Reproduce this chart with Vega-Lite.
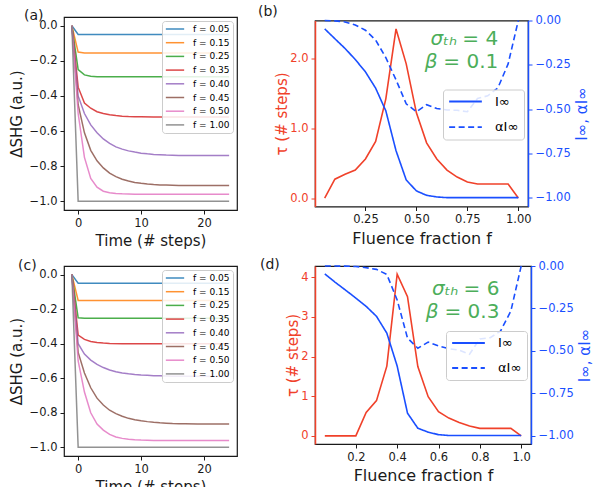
{
  "$schema": "https://vega.github.io/schema/vega-lite/v6.json",
  "background": "white",
  "padding": {"left": 8, "top": 4, "right": 5, "bottom": 0},
  "config": {
    "font": "DejaVu Sans",
    "view": {"stroke": "#1a1a1a", "strokeWidth": 1.2},
    "axis": {"grid": false, "domain": false, "tickColor": "#1a1a1a", "tickSize": 4, "tickWidth": 1, "labelFontSize": 11.5, "labelColor": "#1a1a1a", "titleFontSize": 15, "titleFontWeight": "normal", "titleColor": "#1a1a1a", "labelPadding": 3, "titlePadding": 5},
    "title": {"fontSize": 14, "fontWeight": "normal", "anchor": "start", "frame": "group", "color": "#1a1a1a"},
    "legend": {"title": null, "symbolType": "stroke", "fillColor": "rgba(255,255,255,0.85)", "strokeColor": "#cccccc", "cornerRadius": 3},
    "text": {"font": "DejaVu Sans", "fontWeight": "normal"}
  },
  "datasets": {
    "one": [{}],
    "a": [
      {"f":"f = 0.05","t":-1,"v":0},{"f":"f = 0.05","t":0,"v":-0.05},{"f":"f = 0.05","t":24,"v":-0.05},
      {"f":"f = 0.15","t":-1,"v":0},{"f":"f = 0.15","t":0,"v":-0.15},{"f":"f = 0.15","t":1,"v":-0.155},{"f":"f = 0.15","t":24,"v":-0.155},
      {"f":"f = 0.25","t":-1,"v":0},{"f":"f = 0.25","t":0,"v":-0.25},{"f":"f = 0.25","t":1,"v":-0.28},{"f":"f = 0.25","t":2,"v":-0.288},{"f":"f = 0.25","t":3,"v":-0.29},{"f":"f = 0.25","t":24,"v":-0.29},
      {"f":"f = 0.35","t":-1,"v":0},{"f":"f = 0.35","t":0,"v":-0.35},{"f":"f = 0.35","t":1,"v":-0.44},{"f":"f = 0.35","t":2,"v":-0.47},{"f":"f = 0.35","t":3,"v":-0.49},{"f":"f = 0.35","t":4,"v":-0.5},{"f":"f = 0.35","t":5,"v":-0.507},{"f":"f = 0.35","t":6,"v":-0.512},{"f":"f = 0.35","t":7,"v":-0.515},{"f":"f = 0.35","t":8,"v":-0.517},{"f":"f = 0.35","t":9,"v":-0.518},{"f":"f = 0.35","t":10,"v":-0.519},{"f":"f = 0.35","t":12,"v":-0.52},{"f":"f = 0.35","t":24,"v":-0.52},
      {"f":"f = 0.40","t":-1,"v":0},{"f":"f = 0.40","t":0,"v":-0.4},{"f":"f = 0.40","t":1,"v":-0.5},{"f":"f = 0.40","t":2,"v":-0.565},{"f":"f = 0.40","t":3,"v":-0.61},{"f":"f = 0.40","t":4,"v":-0.645},{"f":"f = 0.40","t":5,"v":-0.67},{"f":"f = 0.40","t":6,"v":-0.69},{"f":"f = 0.40","t":7,"v":-0.703},{"f":"f = 0.40","t":8,"v":-0.713},{"f":"f = 0.40","t":9,"v":-0.72},{"f":"f = 0.40","t":10,"v":-0.726},{"f":"f = 0.40","t":11,"v":-0.73},{"f":"f = 0.40","t":12,"v":-0.733},{"f":"f = 0.40","t":13,"v":-0.735},{"f":"f = 0.40","t":14,"v":-0.737},{"f":"f = 0.40","t":15,"v":-0.738},{"f":"f = 0.40","t":16,"v":-0.739},{"f":"f = 0.40","t":18,"v":-0.74},{"f":"f = 0.40","t":24,"v":-0.74},
      {"f":"f = 0.45","t":-1,"v":0},{"f":"f = 0.45","t":0,"v":-0.45},{"f":"f = 0.45","t":1,"v":-0.61},{"f":"f = 0.45","t":2,"v":-0.71},{"f":"f = 0.45","t":3,"v":-0.77},{"f":"f = 0.45","t":4,"v":-0.81},{"f":"f = 0.45","t":5,"v":-0.84},{"f":"f = 0.45","t":6,"v":-0.86},{"f":"f = 0.45","t":7,"v":-0.875},{"f":"f = 0.45","t":8,"v":-0.885},{"f":"f = 0.45","t":9,"v":-0.893},{"f":"f = 0.45","t":10,"v":-0.898},{"f":"f = 0.45","t":11,"v":-0.902},{"f":"f = 0.45","t":12,"v":-0.905},{"f":"f = 0.45","t":13,"v":-0.907},{"f":"f = 0.45","t":14,"v":-0.908},{"f":"f = 0.45","t":16,"v":-0.91},{"f":"f = 0.45","t":24,"v":-0.91},
      {"f":"f = 0.50","t":-1,"v":0},{"f":"f = 0.50","t":0,"v":-0.5},{"f":"f = 0.50","t":1,"v":-0.75},{"f":"f = 0.50","t":2,"v":-0.87},{"f":"f = 0.50","t":3,"v":-0.92},{"f":"f = 0.50","t":4,"v":-0.943},{"f":"f = 0.50","t":5,"v":-0.952},{"f":"f = 0.50","t":6,"v":-0.956},{"f":"f = 0.50","t":7,"v":-0.958},{"f":"f = 0.50","t":9,"v":-0.96},{"f":"f = 0.50","t":24,"v":-0.96},
      {"f":"f = 1.00","t":-1,"v":0},{"f":"f = 1.00","t":0,"v":-1.0},{"f":"f = 1.00","t":24,"v":-1.0}
    ],
    "c": [
      {"f":"f = 0.05","t":-1,"v":0},{"f":"f = 0.05","t":0,"v":-0.05},{"f":"f = 0.05","t":24,"v":-0.05},
      {"f":"f = 0.15","t":-1,"v":0},{"f":"f = 0.15","t":0,"v":-0.15},{"f":"f = 0.15","t":24,"v":-0.15},
      {"f":"f = 0.25","t":-1,"v":0},{"f":"f = 0.25","t":0,"v":-0.25},{"f":"f = 0.25","t":1,"v":-0.252},{"f":"f = 0.25","t":24,"v":-0.252},
      {"f":"f = 0.35","t":-1,"v":0},{"f":"f = 0.35","t":0,"v":-0.35},{"f":"f = 0.35","t":1,"v":-0.375},{"f":"f = 0.35","t":2,"v":-0.387},{"f":"f = 0.35","t":3,"v":-0.393},{"f":"f = 0.35","t":4,"v":-0.396},{"f":"f = 0.35","t":5,"v":-0.398},{"f":"f = 0.35","t":7,"v":-0.4},{"f":"f = 0.35","t":24,"v":-0.4},
      {"f":"f = 0.40","t":-1,"v":0},{"f":"f = 0.40","t":0,"v":-0.4},{"f":"f = 0.40","t":1,"v":-0.46},{"f":"f = 0.40","t":2,"v":-0.495},{"f":"f = 0.40","t":3,"v":-0.52},{"f":"f = 0.40","t":4,"v":-0.538},{"f":"f = 0.40","t":5,"v":-0.552},{"f":"f = 0.40","t":6,"v":-0.562},{"f":"f = 0.40","t":7,"v":-0.569},{"f":"f = 0.40","t":8,"v":-0.574},{"f":"f = 0.40","t":9,"v":-0.578},{"f":"f = 0.40","t":10,"v":-0.581},{"f":"f = 0.40","t":11,"v":-0.583},{"f":"f = 0.40","t":12,"v":-0.585},{"f":"f = 0.40","t":13,"v":-0.586},{"f":"f = 0.40","t":14,"v":-0.587},{"f":"f = 0.40","t":15,"v":-0.588},{"f":"f = 0.40","t":17,"v":-0.589},{"f":"f = 0.40","t":24,"v":-0.59},
      {"f":"f = 0.45","t":-1,"v":0},{"f":"f = 0.45","t":0,"v":-0.45},{"f":"f = 0.45","t":1,"v":-0.57},{"f":"f = 0.45","t":2,"v":-0.655},{"f":"f = 0.45","t":3,"v":-0.715},{"f":"f = 0.45","t":4,"v":-0.755},{"f":"f = 0.45","t":5,"v":-0.785},{"f":"f = 0.45","t":6,"v":-0.805},{"f":"f = 0.45","t":7,"v":-0.82},{"f":"f = 0.45","t":8,"v":-0.832},{"f":"f = 0.45","t":9,"v":-0.84},{"f":"f = 0.45","t":10,"v":-0.846},{"f":"f = 0.45","t":11,"v":-0.851},{"f":"f = 0.45","t":12,"v":-0.855},{"f":"f = 0.45","t":13,"v":-0.858},{"f":"f = 0.45","t":14,"v":-0.86},{"f":"f = 0.45","t":15,"v":-0.862},{"f":"f = 0.45","t":16,"v":-0.863},{"f":"f = 0.45","t":17,"v":-0.864},{"f":"f = 0.45","t":19,"v":-0.865},{"f":"f = 0.45","t":24,"v":-0.865},
      {"f":"f = 0.50","t":-1,"v":0},{"f":"f = 0.50","t":0,"v":-0.5},{"f":"f = 0.50","t":1,"v":-0.68},{"f":"f = 0.50","t":2,"v":-0.8},{"f":"f = 0.50","t":3,"v":-0.865},{"f":"f = 0.50","t":4,"v":-0.9},{"f":"f = 0.50","t":5,"v":-0.925},{"f":"f = 0.50","t":6,"v":-0.94},{"f":"f = 0.50","t":7,"v":-0.948},{"f":"f = 0.50","t":8,"v":-0.953},{"f":"f = 0.50","t":9,"v":-0.956},{"f":"f = 0.50","t":10,"v":-0.958},{"f":"f = 0.50","t":12,"v":-0.96},{"f":"f = 0.50","t":24,"v":-0.96},
      {"f":"f = 1.00","t":-1,"v":0},{"f":"f = 1.00","t":0,"v":-1.0},{"f":"f = 1.00","t":24,"v":-1.0}
    ],
    "b": [
      {"f":0.05,"tau":0,"I":-0.047,"aI":0},
      {"f":0.10,"tau":0.27,"I":-0.103,"aI":-0.002},
      {"f":0.15,"tau":0.34,"I":-0.158,"aI":-0.008},
      {"f":0.20,"tau":0.40,"I":-0.22,"aI":-0.025},
      {"f":0.25,"tau":0.56,"I":-0.29,"aI":-0.055},
      {"f":0.30,"tau":0.81,"I":-0.382,"aI":-0.11},
      {"f":0.35,"tau":1.42,"I":-0.51,"aI":-0.21},
      {"f":0.40,"tau":2.42,"I":-0.735,"aI":-0.335},
      {"f":0.45,"tau":1.92,"I":-0.9,"aI":-0.47},
      {"f":0.50,"tau":1.22,"I":-0.962,"aI":-0.515},
      {"f":0.55,"tau":0.79,"I":-0.987,"aI":-0.475},
      {"f":0.60,"tau":0.56,"I":-0.996,"aI":-0.497},
      {"f":0.65,"tau":0.40,"I":-1.0,"aI":-0.505},
      {"f":0.70,"tau":0.30,"I":-1.0,"aI":-0.507},
      {"f":0.75,"tau":0.23,"I":-1.0,"aI":-0.515},
      {"f":0.80,"tau":0.20,"I":-1.0,"aI":-0.44},
      {"f":0.85,"tau":0.20,"I":-1.0,"aI":-0.425},
      {"f":0.90,"tau":0.20,"I":-1.0,"aI":-0.38},
      {"f":0.95,"tau":0.20,"I":-1.0,"aI":-0.245},
      {"f":1.00,"tau":0,"I":-1.0,"aI":0}
    ],
    "d": [
      {"f":0.05,"tau":0,"I":-0.047,"aI":0},
      {"f":0.10,"tau":0,"I":-0.096,"aI":0},
      {"f":0.15,"tau":0,"I":-0.142,"aI":-0.001},
      {"f":0.20,"tau":0,"I":-0.189,"aI":-0.003},
      {"f":0.25,"tau":0.59,"I":-0.238,"aI":-0.01},
      {"f":0.30,"tau":0.89,"I":-0.297,"aI":-0.02},
      {"f":0.35,"tau":1.76,"I":-0.396,"aI":-0.05},
      {"f":0.40,"tau":4.08,"I":-0.59,"aI":-0.2},
      {"f":0.45,"tau":3.51,"I":-0.868,"aI":-0.425},
      {"f":0.50,"tau":1.75,"I":-0.957,"aI":-0.485},
      {"f":0.55,"tau":0.99,"I":-0.98,"aI":-0.449},
      {"f":0.60,"tau":0.61,"I":-0.995,"aI":-0.472},
      {"f":0.65,"tau":0.45,"I":-1.0,"aI":-0.488},
      {"f":0.70,"tau":0.34,"I":-1.0,"aI":-0.496},
      {"f":0.75,"tau":0.25,"I":-1.0,"aI":-0.52},
      {"f":0.80,"tau":0.19,"I":-1.0,"aI":-0.43},
      {"f":0.85,"tau":0.19,"I":-1.0,"aI":-0.423},
      {"f":0.90,"tau":0.19,"I":-1.0,"aI":-0.384},
      {"f":0.95,"tau":0.19,"I":-1.0,"aI":-0.266},
      {"f":1.00,"tau":0,"I":-1.0,"aI":0}
    ]
  },
  "columns": 2,
  "spacing": {"row": 56, "column": 78},
  "bounds": "flush",
  "center": true,
  "resolve": {"scale": {"color": "independent", "strokeDash": "independent"}, "legend": {"color": "independent", "strokeDash": "independent"}},
  "concat": [
    {
      "width": 173, "height": 193,
      "title": {"text": "(a)", "dx": -40, "dy": 9.5},
      "data": {"name": "a"},
      "mark": {"type": "line", "strokeWidth": 1.5, "opacity": 0.85},
      "encoding": {
        "x": {"field": "t", "type": "quantitative", "scale": {"domain": [-2.25, 25.25], "nice": false, "zero": false}, "axis": {"values": [0, 10, 20], "format": "d", "title": "Time (# steps)"}},
        "y": {"field": "v", "type": "quantitative", "scale": {"domain": [-1.05, 0.05], "nice": false, "zero": false}, "axis": {"values": [0, -0.2, -0.4, -0.6, -0.8, -1], "format": ".1f", "title": "ΔSHG (a.u.)"}},
        "color": {"field": "f", "type": "nominal", "scale": {"domain": ["f = 0.05","f = 0.15","f = 0.25","f = 0.35","f = 0.40","f = 0.45","f = 0.50","f = 1.00"], "range": ["#1f77b4","#ff7f0e","#2ca02c","#d62728","#9467bd","#8c564b","#e377c2","#7f7f7f"]},
          "legend": {"orient": "top-right", "offset": 4, "labelFontSize": 9, "symbolSize": 335, "symbolStrokeWidth": 1.5, "clipHeight": 10, "rowPadding": 3.7, "padding": 3, "labelOffset": 8}}
      }
    },
    {
      "width": 213, "height": 186,
      "title": {"text": "(b)", "dx": -57, "dy": 8.5},
      "data": {"name": "b"},
      "layer": [
        {
          "layer": [
            {
              "mark": {"type": "line", "color": "#f0412a", "strokeWidth": 1.6},
              "encoding": {
                "x": {"field": "f", "type": "quantitative", "scale": {"domain": [0.0025, 1.0475], "nice": false, "zero": false}, "axis": {"values": [0.25, 0.5, 0.75, 1.0], "format": ".2f", "title": "Fluence fraction f", "titleFontSize": 16}},
                "y": {"field": "tau", "type": "quantitative", "scale": {"domain": [-0.121, 2.541], "nice": false, "zero": false}, "axis": {"orient": "left", "values": [0, 0.5, 1, 1.5, 2, 2.5], "format": ".1f", "title": "τ (# steps)", "titlePadding": 0, "titleColor": "#f0412a", "labelColor": "#f0412a", "tickColor": "#f0412a", "domain": true, "domainColor": "#f0412a", "domainWidth": 1.5}}
              }
            },
            {
              "data": {"name": "one"},
              "mark": {"type": "text", "text": "σₜₕ", "color": "#4cae5a", "fontSize": 20, "fontStyle": "italic", "align": "right", "baseline": "middle"},
              "encoding": {"x": {"datum": 0.70, "type": "quantitative", "title": "Fluence fraction f"}, "y": {"datum": 2.27, "type": "quantitative", "title": "τ (# steps)"}}
            },
            {
              "data": {"name": "one"},
              "mark": {"type": "text", "text": "= 4", "color": "#4cae5a", "fontSize": 20, "align": "left", "baseline": "middle"},
              "encoding": {"x": {"datum": 0.725, "type": "quantitative", "title": "Fluence fraction f"}, "y": {"datum": 2.27, "type": "quantitative", "title": "τ (# steps)"}}
            },
            {
              "data": {"name": "one"},
              "mark": {"type": "text", "text": "β", "color": "#4cae5a", "fontSize": 20, "fontStyle": "italic", "align": "right", "baseline": "middle"},
              "encoding": {"x": {"datum": 0.603, "type": "quantitative", "title": "Fluence fraction f"}, "y": {"datum": 1.94, "type": "quantitative", "title": "τ (# steps)"}}
            },
            {
              "data": {"name": "one"},
              "mark": {"type": "text", "text": "= 0.1", "color": "#4cae5a", "fontSize": 20, "align": "left", "baseline": "middle"},
              "encoding": {"x": {"datum": 0.632, "type": "quantitative", "title": "Fluence fraction f"}, "y": {"datum": 1.94, "type": "quantitative", "title": "τ (# steps)"}}
            }
          ]
        },
        {
          "transform": [{"fold": ["I", "aI"], "as": ["s", "v"]}],
          "mark": {"type": "line", "color": "#1a4fff", "strokeWidth": 1.6},
          "encoding": {
            "x": {"field": "f", "type": "quantitative", "title": "Fluence fraction f"},
            "y": {"field": "v", "type": "quantitative", "scale": {"domain": [-1.05, 0], "nice": false, "zero": false}, "axis": {"orient": "right", "values": [0, -0.25, -0.5, -0.75, -1], "format": ".2f", "title": "I∞, αI∞", "titleAngle": 270, "titleBaseline": "top", "titlePadding": 4, "titleColor": "#1a4fff", "labelColor": "#1a4fff", "tickColor": "#1a4fff", "domain": true, "domainColor": "#1a4fff", "domainWidth": 1.5}},
            "strokeDash": {"field": "s", "type": "nominal", "scale": {"domain": ["I", "aI"], "range": [[1, 0], [6, 3.5]]},
              "legend": {"orient": "none", "legendX": 128, "legendY": 69, "labelExpr": "datum.label == 'I' ? 'I∞' : 'αI∞'", "labelFontSize": 13, "symbolSize": 1070, "symbolStrokeWidth": 1.8, "symbolStrokeColor": "#1a4fff", "clipHeight": 14, "rowPadding": 11.7, "padding": 5, "labelOffset": 12}}
          }
        }
      ],
      "resolve": {"scale": {"y": "independent"}}
    },
    {
      "width": 173, "height": 190,
      "title": {"text": "(c)", "dx": -46, "dy": 11.3},
      "data": {"name": "c"},
      "mark": {"type": "line", "strokeWidth": 1.5, "opacity": 0.85},
      "encoding": {
        "x": {"field": "t", "type": "quantitative", "scale": {"domain": [-2.25, 25.25], "nice": false, "zero": false}, "axis": {"values": [0, 10, 20], "format": "d", "title": "Time (# steps)"}},
        "y": {"field": "v", "type": "quantitative", "scale": {"domain": [-1.05, 0.05], "nice": false, "zero": false}, "axis": {"values": [0, -0.2, -0.4, -0.6, -0.8, -1], "format": ".1f", "title": "ΔSHG (a.u.)"}},
        "color": {"field": "f", "type": "nominal", "scale": {"domain": ["f = 0.05","f = 0.15","f = 0.25","f = 0.35","f = 0.40","f = 0.45","f = 0.50","f = 1.00"], "range": ["#1f77b4","#ff7f0e","#2ca02c","#d62728","#9467bd","#8c564b","#e377c2","#7f7f7f"]},
          "legend": {"orient": "top-right", "offset": 4, "labelFontSize": 9, "symbolSize": 335, "symbolStrokeWidth": 1.5, "clipHeight": 10, "rowPadding": 3.7, "padding": 3, "labelOffset": 8}}
      }
    },
    {
      "width": 216, "height": 178,
      "title": {"text": "(d)", "dx": -55, "dy": 15.5},
      "data": {"name": "d"},
      "layer": [
        {
          "layer": [
            {
              "mark": {"type": "line", "color": "#f0412a", "strokeWidth": 1.6},
              "encoding": {
                "x": {"field": "f", "type": "quantitative", "scale": {"domain": [0.0025, 1.0475], "nice": false, "zero": false}, "axis": {"values": [0.2, 0.4, 0.6, 0.8, 1.0], "format": ".1f", "title": "Fluence fraction f", "titleFontSize": 16}},
                "y": {"field": "tau", "type": "quantitative", "scale": {"domain": [-0.204, 4.284], "nice": false, "zero": false}, "axis": {"orient": "left", "values": [0, 1, 2, 3, 4], "format": "d", "title": "τ (# steps)", "titlePadding": 0, "titleColor": "#f0412a", "labelColor": "#f0412a", "tickColor": "#f0412a", "domain": true, "domainColor": "#f0412a", "domainWidth": 1.5}}
              }
            },
            {
              "data": {"name": "one"},
              "mark": {"type": "text", "text": "σₜₕ", "color": "#4cae5a", "fontSize": 20, "fontStyle": "italic", "align": "right", "baseline": "middle"},
              "encoding": {"x": {"datum": 0.697, "type": "quantitative", "title": "Fluence fraction f"}, "y": {"datum": 3.7, "type": "quantitative", "title": "τ (# steps)"}}
            },
            {
              "data": {"name": "one"},
              "mark": {"type": "text", "text": "= 6", "color": "#4cae5a", "fontSize": 20, "align": "left", "baseline": "middle"},
              "encoding": {"x": {"datum": 0.721, "type": "quantitative", "title": "Fluence fraction f"}, "y": {"datum": 3.7, "type": "quantitative", "title": "τ (# steps)"}}
            },
            {
              "data": {"name": "one"},
              "mark": {"type": "text", "text": "β", "color": "#4cae5a", "fontSize": 20, "fontStyle": "italic", "align": "right", "baseline": "middle"},
              "encoding": {"x": {"datum": 0.60, "type": "quantitative", "title": "Fluence fraction f"}, "y": {"datum": 3.12, "type": "quantitative", "title": "τ (# steps)"}}
            },
            {
              "data": {"name": "one"},
              "mark": {"type": "text", "text": "= 0.3", "color": "#4cae5a", "fontSize": 20, "align": "left", "baseline": "middle"},
              "encoding": {"x": {"datum": 0.629, "type": "quantitative", "title": "Fluence fraction f"}, "y": {"datum": 3.12, "type": "quantitative", "title": "τ (# steps)"}}
            }
          ]
        },
        {
          "transform": [{"fold": ["I", "aI"], "as": ["s", "v"]}],
          "mark": {"type": "line", "color": "#1a4fff", "strokeWidth": 1.6},
          "encoding": {
            "x": {"field": "f", "type": "quantitative", "title": "Fluence fraction f"},
            "y": {"field": "v", "type": "quantitative", "scale": {"domain": [-1.05, 0], "nice": false, "zero": false}, "axis": {"orient": "right", "values": [0, -0.25, -0.5, -0.75, -1], "format": ".2f", "title": "I∞, αI∞", "titleAngle": 270, "titleBaseline": "top", "titlePadding": 4, "titleColor": "#1a4fff", "labelColor": "#1a4fff", "tickColor": "#1a4fff", "domain": true, "domainColor": "#1a4fff", "domainWidth": 1.5}},
            "strokeDash": {"field": "s", "type": "nominal", "scale": {"domain": ["I", "aI"], "range": [[1, 0], [6, 3.5]]},
              "legend": {"orient": "none", "legendX": 131, "legendY": 65, "labelExpr": "datum.label == 'I' ? 'I∞' : 'αI∞'", "labelFontSize": 13, "symbolSize": 1070, "symbolStrokeWidth": 1.8, "symbolStrokeColor": "#1a4fff", "clipHeight": 14, "rowPadding": 11, "padding": 5, "labelOffset": 12}}
          }
        }
      ],
      "resolve": {"scale": {"y": "independent"}}
    }
  ]
}
